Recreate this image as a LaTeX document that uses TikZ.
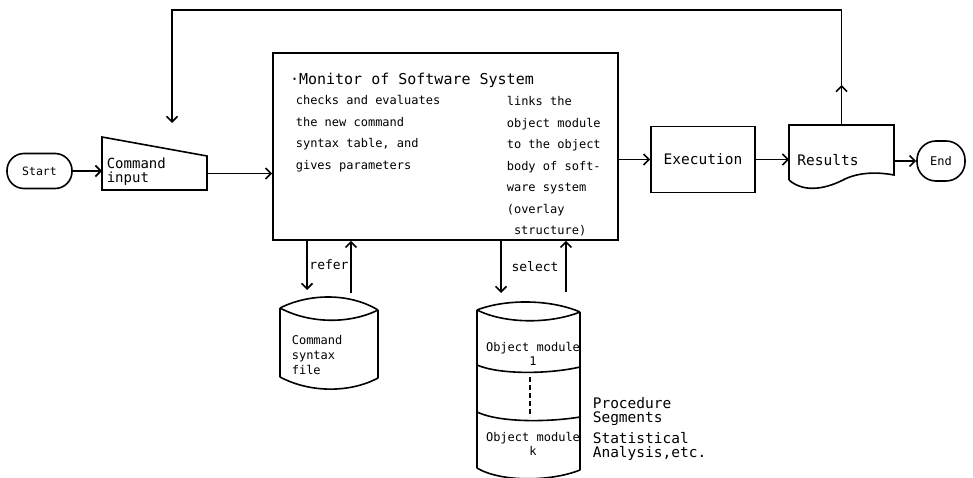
\documentclass[tikz,border=0pt]{standalone}
\usepackage{fontspec}
\setmonofont{DejaVu Sans Mono}
\usetikzlibrary{arrows.meta,calc}
\begin{document}
\begin{tikzpicture}[x=1pt,y=-1pt,line width=1.6pt,
  arr/.style={-{Straight Barb[length=5.5pt,width=11pt]}},
  box/.style={draw,inner sep=0pt},
  ghost/.style={inner sep=0pt,outer sep=0pt},
  txt/.style={inner sep=0pt,font=\ttfamily\fontsize{12}{15}\selectfont},
  big/.style={inner sep=0pt,font=\ttfamily\fontsize{14.5}{14}\selectfont}]
\useasboundingbox (0,0) rectangle (973,478);

% terminals
\node[box,rounded corners=17pt,minimum width=65pt,minimum height=35pt,
      font=\ttfamily\fontsize{11.5}{12}\selectfont] (start) at (39.5,171) {Start};
\node[box,rounded corners=19pt,minimum width=48pt,minimum height=40pt,
      font=\ttfamily\fontsize{12}{12}\selectfont] (end) at (941,161) {End};

% manual input
\node[ghost,minimum width=105pt,minimum height=53pt] (cmd) at (154.5,163.5) {};
\draw (cmd.south west) -- (cmd.north west) -- ($(cmd.north east)+(0,19)$)
      -- (cmd.south east) -- cycle;
\node[big,anchor=west,align=left,font=\ttfamily\fontsize{14}{14}\selectfont]
      (cmdtxt) at (106,172) {Command\\input};

% monitor
\node[box,minimum width=345pt,minimum height=187pt] (mon) at (445.5,146.5) {};
\node[ghost,anchor=west,font=\ttfamily\fontsize{15}{15}\selectfont]
      (title) at (290,80) {·Monitor of Software System};
\node[txt,anchor=north west,align=left,font=\ttfamily\fontsize{12}{21.5}\selectfont]
      (chk) at (295,95) {checks and evaluates\\the new command\\syntax table, and\\gives parameters};
\node[txt,anchor=north west,align=left,font=\ttfamily\fontsize{12}{21.5}\selectfont]
      (lnk) at (506,96) {links the\\object module\\to the object\\body of soft-\\ware system\\(overlay\\\hspace*{0.6em}structure)};

% execution and results
\node[box,minimum width=104pt,minimum height=66pt,big] (exe) at (703,159.5) {Execution};
\node[ghost,minimum width=105pt,minimum height=55pt] (res) at (841.5,152.5) {};
\draw (res.south west) -- (res.north west) -- (res.north east)
      -- ($(res.north east)+(0,50)$)
      .. controls (878,172) and (860,172) .. (845,179)
      .. controls (828,188) and (805,194) .. (res.south west);
\node[big] (restxt) at (828,160) {Results};

% command syntax file
\node[ghost,minimum width=98pt,minimum height=89pt] (csf) at (329,343.5) {};
\draw (280,308) .. controls (310,293) and (350,293) .. (378,310)
      (280,308) .. controls (310,324) and (350,324) .. (378,310)
      (280,308) -- (280,377)
      (378,310) -- (378,378)
      (280,377) .. controls (310,393) and (350,393) .. (378,378);
\node[txt,anchor=west,align=left] (csftxt) at (291,355) {Command\\syntax\\file};

% object module stack
\node[ghost,minimum width=103pt,minimum height=175pt] (obj) at (528.5,390.5) {};
\draw (477,310) .. controls (505,299) and (550,299) .. (580,312)
      (477,310) .. controls (505,324) and (550,324) .. (580,312)
      (477,310) -- (477,468)
      (580,312) -- (580,470)
      (477,365) .. controls (500,375) and (550,374) .. (580,367)
      (477,412) .. controls (500,423) and (550,422) .. (580,417)
      (477,468) .. controls (500,482) and (550,482) .. (580,470);
\draw[dashed,dash pattern=on 5pt off 3pt] (530,377) -- (530,417);
\node[txt,align=center,font=\ttfamily\fontsize{12}{14}\selectfont] (om1) at (533,354) {Object module\\1};
\node[txt,align=center,font=\ttfamily\fontsize{12}{14}\selectfont] (omk) at (533,444) {Object module\\k};

\node[big,anchor=west,align=left] (proc) at (592,412) {Procedure\\Segments};
\node[big,anchor=west,align=left] (stat) at (592,446) {Statistical\\Analysis,etc.};

% main flow
\draw[arr] (start.east) -- (start.east -| cmd.west);
\draw[arr] ([yshift=-10pt]cmd.east) -- ([yshift=-10pt]cmd.east -| mon.west);
\draw[arr] (mon.east |- exe.west) -- (exe.west);
\draw[arr] (exe.east) -- (exe.east -| res.west);
\draw[arr] (res.east |- end.west) -- (end.west);

% refer / select
\coordinate (rdown) at ($(csf.north)+(-22,-9)$);
\coordinate (rup) at ($(csf.north)+(22,-6)$);
\draw[arr] (rdown |- mon.south) -- (rdown);
\draw[arr] (rup) -- (rup |- mon.south);
\node[ghost,font=\ttfamily\fontsize{13}{13}\selectfont] (refer) at (329,265) {refer};

\coordinate (sdown) at ($(obj.north)+(-27.5,-10)$);
\coordinate (sup) at ($(obj.north)+(37.5,-11)$);
\draw[arr] (sdown |- mon.south) -- (sdown);
\draw[arr] (sup) -- (sup |- mon.south);
\node[ghost,font=\ttfamily\fontsize{13}{13}\selectfont] (select) at (535,267) {select};

% feedback loop
\coordinate (fbmid) at ($(res.north)+(0,-40)$);
\coordinate (fbcorner) at (172,10);
\coordinate (fbend) at (172,123);
\draw[arr] (res.north) -- (fbmid);
\draw[arr] (fbmid) |- (fbcorner) -- (fbend);
\end{tikzpicture}
\end{document}
